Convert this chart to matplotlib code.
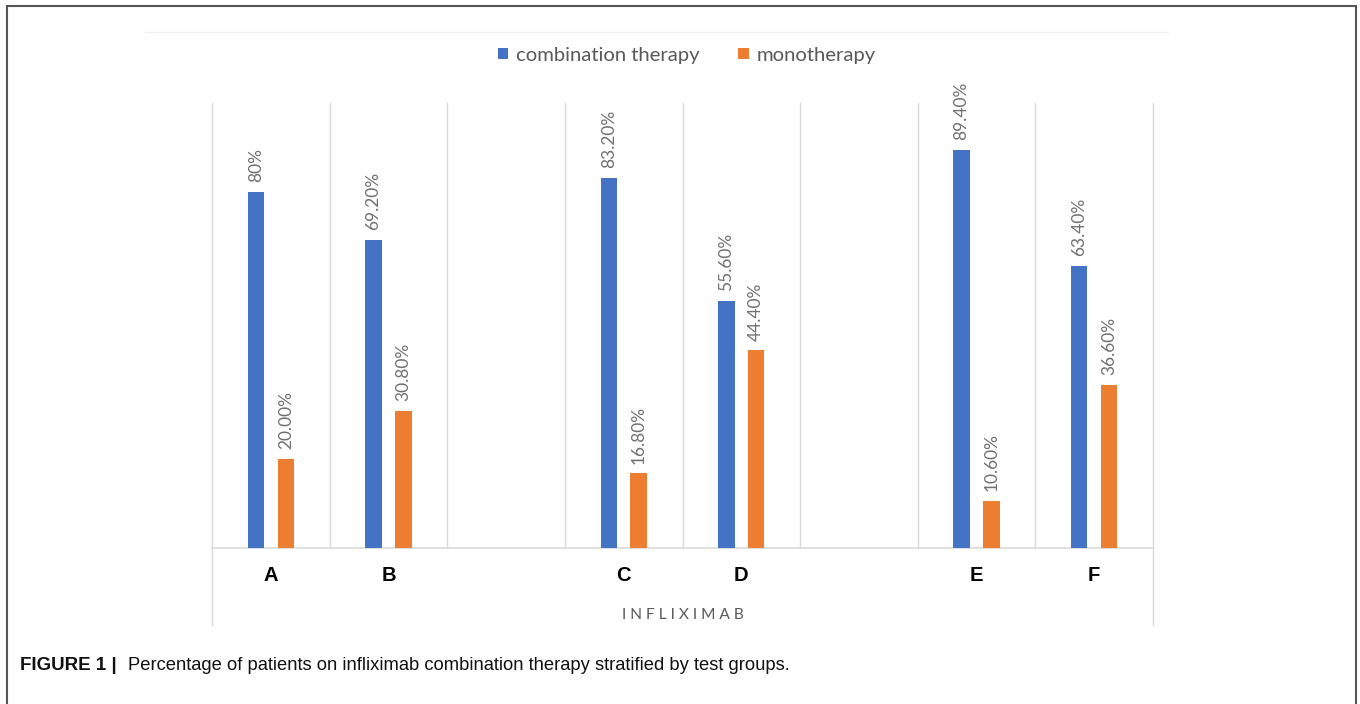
import matplotlib
matplotlib.use("Agg")
import matplotlib.pyplot as plt
from matplotlib.patches import Rectangle
from matplotlib.lines import Line2D

# data
groups = ["A", "B", "C", "D", "E", "F"]
slots = [0, 1, 3, 4, 6, 7]  # empty slots between pairs of groups
combination = [80, 69.2, 83.2, 55.6, 89.4, 63.4]
mono = [20.0, 30.8, 16.8, 44.4, 10.6, 36.6]
combination_labels = ["80%", "69.20%", "83.20%", "55.60%", "89.40%", "63.40%"]
mono_labels = ["20.00%", "30.80%", "16.80%", "44.40%", "10.60%", "36.60%"]

blue = "#4472C4"
orange = "#ED7D31"
grid = "#d9d9d9"

W, H = 1360, 704
fig = plt.figure(figsize=(W / 100, H / 100), dpi=100)

ax = fig.add_axes([212 / W, 1 - 548 / H, (1153 - 212) / W, (548 - 103) / H])
ax.set_xlim(-0.5, 7.5)
ax.set_ylim(0, 100)
for s in ax.spines.values():
    s.set_visible(False)
ax.set_yticks([])

# slot separators
for i in range(9):
    xb = i - 0.5
    lo = -17.3 if i in (0, 8) else 0
    ax.plot([xb, xb], [lo, 100], color=grid, lw=1, clip_on=False, zorder=0)
ax.plot([-0.5, 7.5], [0, 0], color=grid, lw=1.2, clip_on=False, zorder=1)

off = 0.127
bw = 0.14
xb_ = [s - off for s in slots]
xo_ = [s + off for s in slots]
b1 = ax.bar(xb_, combination, width=bw, color=blue, label="combination therapy", zorder=2)
b2 = ax.bar(xo_, mono, width=bw, color=orange, label="monotherapy", zorder=2)

for x, v, t in zip(xb_, combination, combination_labels):
    ax.annotate(t, (x, v), xytext=(0, 7), textcoords="offset points", rotation=90,
                ha="center", va="bottom", color="#707070", fontsize=12.5, family="Lato")
for x, v, t in zip(xo_, mono, mono_labels):
    ax.annotate(t, (x, v), xytext=(0, 7), textcoords="offset points", rotation=90,
                ha="center", va="bottom", color="#707070", fontsize=12.5, family="Lato")

ax.set_xticks(slots, groups)
ax.tick_params(axis="x", length=0, pad=13)
for lab in ax.get_xticklabels():
    lab.set_fontweight("bold")
    lab.set_fontsize(14.5)
    lab.set_family("Liberation Sans")
    lab.set_color("black")

fig.text(683 / W, 1 - 615 / H, "I N F L I X I M A B", ha="center", va="center",
         color="#595959", fontsize=11.2, family="Lato")

fig.legend(handles=[b1, b2], loc="center", bbox_to_anchor=(687 / W, 1 - 55 / H),
           ncol=2, frameon=False, prop={"family": "Lato", "size": 14.6},
           handlelength=0.5, handleheight=0.5, handletextpad=0.4,
           columnspacing=1.9, labelcolor="#595959")

# faint chart area edge
fig.add_artist(Line2D([145 / W, 1168 / W], [1 - 32 / H, 1 - 32 / H],
                      color="#f0f0f0", lw=1))

# outer frame
fig.add_artist(Rectangle((7 / W, -0.1), (1356 - 7) / W, 1.1 - 6 / H, fill=False,
                         edgecolor="#555555", lw=1.5, transform=fig.transFigure))

fig.text(20 / W, 1 - 665 / H, "FIGURE 1 |", fontweight="bold", fontsize=13.5,
         family="Liberation Sans", va="center", color="#111111")
fig.text(128 / W, 1 - 665 / H,
         "Percentage of patients on infliximab combination therapy stratified by test groups.",
         fontsize=13.2, family="Liberation Sans", va="center", color="#111111")

fig.savefig("out.png", dpi=100)
